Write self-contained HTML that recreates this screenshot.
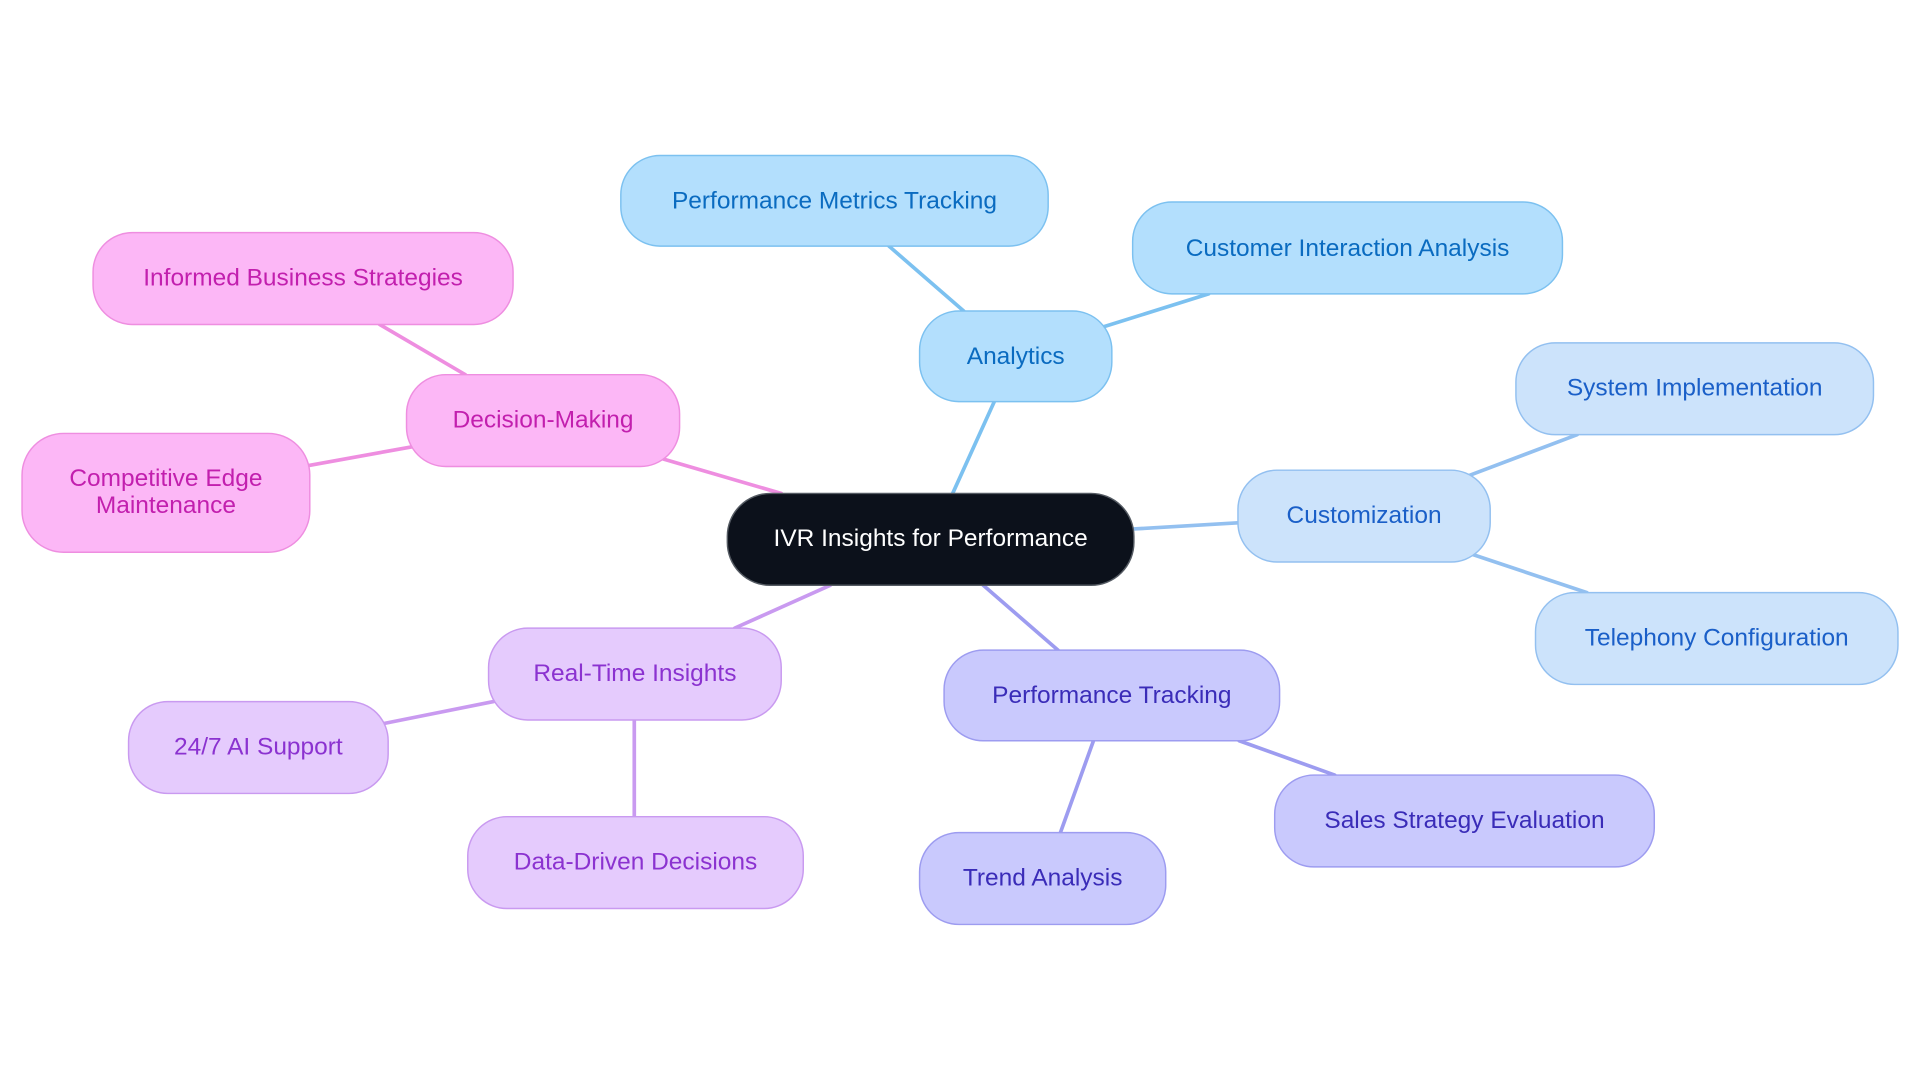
<!DOCTYPE html>
<html><head><meta charset="utf-8"><style>
html,body{margin:0;padding:0;background:#fff;}
svg{display:block;}
text{font-family:"Liberation Sans",sans-serif;font-size:20px;text-anchor:middle;dominant-baseline:central;}
</style></head><body>
<svg width="1920" height="1083" viewBox="0 0 1568 884.5" preserveAspectRatio="none" xmlns="http://www.w3.org/2000/svg">
<g stroke-width="3" fill="none" stroke-linecap="round">
<line x1="778" y1="403" x2="812" y2="328" stroke="#7cc1f0"/>
<line x1="787" y1="254" x2="726" y2="201" stroke="#7cc1f0"/>
<line x1="901" y1="267" x2="987" y2="240" stroke="#7cc1f0"/>
<line x1="926" y1="432" x2="1011" y2="427" stroke="#93c0f0"/>
<line x1="1198" y1="389" x2="1288" y2="355" stroke="#93c0f0"/>
<line x1="1203" y1="453" x2="1296" y2="484" stroke="#93c0f0"/>
<line x1="803" y1="478" x2="864" y2="531" stroke="#9d9cf0"/>
<line x1="1012" y1="605" x2="1090" y2="633" stroke="#9d9cf0"/>
<line x1="893" y1="605" x2="866" y2="680" stroke="#9d9cf0"/>
<line x1="678" y1="478" x2="600" y2="513" stroke="#c99af0"/>
<line x1="403" y1="573" x2="313" y2="591" stroke="#c99af0"/>
<line x1="518" y1="588" x2="518" y2="667" stroke="#c99af0"/>
<line x1="638" y1="403" x2="542" y2="375" stroke="#ee8ee0"/>
<line x1="380" y1="306" x2="310" y2="265" stroke="#ee8ee0"/>
<line x1="336" y1="365" x2="253" y2="380" stroke="#ee8ee0"/>
</g>
<g stroke-width="1.2">
<rect x="594" y="403" width="332" height="75" rx="35" fill="#0c111b" stroke="#555b63"/>
<text x="760" y="440" fill="#fff">IVR Insights for Performance</text>

<g fill="#b3dffd" stroke="#7cc1f0">
<rect x="751" y="254" width="157" height="74" rx="32"/>
<rect x="507" y="127" width="349" height="74" rx="32"/>
<rect x="925" y="165" width="351" height="75" rx="32"/>
</g>
<g fill="#0a6bc0">
<text x="829.5" y="291">Analytics</text>
<text x="681.5" y="164">Performance Metrics Tracking</text>
<text x="1100.5" y="203">Customer Interaction Analysis</text>
</g>

<g fill="#cce3fb" stroke="#93c0f0">
<rect x="1011" y="384" width="206" height="75" rx="32"/>
<rect x="1238" y="280" width="292" height="75" rx="32"/>
<rect x="1254" y="484" width="296" height="75" rx="32"/>
</g>
<g fill="#1a5fc8">
<text x="1114" y="421">Customization</text>
<text x="1384" y="317">System Implementation</text>
<text x="1402" y="521">Telephony Configuration</text>
</g>

<g fill="#c9c9fd" stroke="#9d9cf0">
<rect x="771" y="531" width="274" height="74" rx="32"/>
<rect x="1041" y="633" width="310" height="75" rx="32"/>
<rect x="751" y="680" width="201" height="75" rx="32"/>
</g>
<g fill="#3a2cb8">
<text x="908" y="568">Performance Tracking</text>
<text x="1196" y="670">Sales Strategy Evaluation</text>
<text x="851.5" y="717">Trend Analysis</text>
</g>

<g fill="#e5cbfd" stroke="#c99af0">
<rect x="399" y="513" width="239" height="75" rx="32"/>
<rect x="105" y="573" width="212" height="75" rx="32"/>
<rect x="382" y="667" width="274" height="75" rx="32"/>
</g>
<g fill="#8b32d0">
<text x="518.5" y="550">Real-Time Insights</text>
<text x="211" y="610">24/7 AI Support</text>
<text x="519" y="704">Data-Driven Decisions</text>
</g>

<g fill="#fcb7f6" stroke="#ee8ee0">
<rect x="332" y="306" width="223" height="75" rx="32"/>
<rect x="76" y="190" width="343" height="75" rx="32"/>
<rect x="18" y="354" width="235" height="97" rx="34"/>
</g>
<g fill="#c21fae">
<text x="443.5" y="343">Decision-Making</text>
<text x="247.5" y="227">Informed Business Strategies</text>
<text x="135.5" y="391">Competitive Edge</text>
<text x="135.5" y="413">Maintenance</text>
</g>
</g>
</svg>
</body></html>
